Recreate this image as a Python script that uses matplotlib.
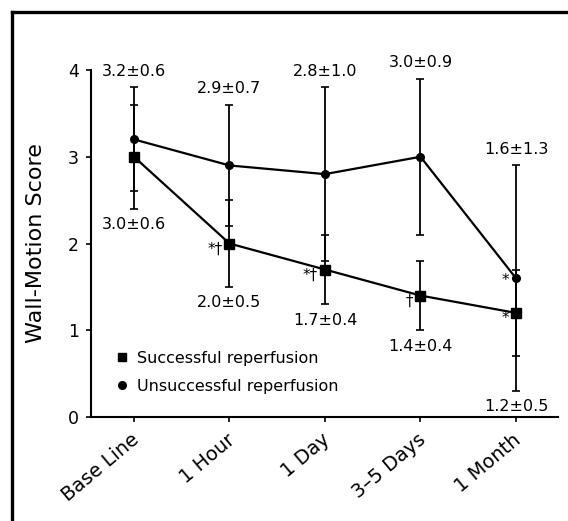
import numpy as np
import matplotlib.pyplot as plt
import matplotlib.transforms as mtransforms
from matplotlib.lines import Line2D

# values (mean +/- SD)
categories = ['Base Line', '1 Hour', '1 Day', '3\u20135 Days', '1 Month']
succ_mean = [3.0, 2.0, 1.7, 1.4, 1.2]
succ_sd = [0.6, 0.5, 0.4, 0.4, 0.5]
unsucc_mean = [3.2, 2.9, 2.8, 3.0, 1.6]
unsucc_sd = [0.6, 0.7, 1.0, 0.9, 1.3]
succ_marks = ['', '*\u2020', '*\u2020', '\u2020', '*']
unsucc_marks = ['', '', '', '', '*']

fig = plt.figure(figsize=(5.68, 5.21), dpi=100)
ax = fig.add_axes([0.1602, 0.1996, 0.8222, 0.666])

x = np.arange(len(categories))
common = dict(color='black', lw=1.6, elinewidth=1.3, capsize=2.8, capthick=1.2)
ax.errorbar(x, unsucc_mean, yerr=unsucc_sd, fmt='-o', ms=5.5, zorder=3, **common)
ax.errorbar(x, succ_mean, yerr=succ_sd, fmt='-s', ms=6.5, zorder=4, **common)

# mean +/- SD labels above and below the bars
for i in range(len(categories)):
    top = max(unsucc_mean[i] + unsucc_sd[i], succ_mean[i] + succ_sd[i])
    bottom = min(unsucc_mean[i] - unsucc_sd[i], succ_mean[i] - succ_sd[i])
    ax.annotate(f'{unsucc_mean[i]:.1f}\u00b1{unsucc_sd[i]:.1f}', (i, top),
                xytext=(0, 11.5), textcoords='offset points',
                ha='center', va='center', fontsize=11.5)
    ax.annotate(f'{succ_mean[i]:.1f}\u00b1{succ_sd[i]:.1f}', (i, bottom),
                xytext=(0, -11.5), textcoords='offset points',
                ha='center', va='center', fontsize=11.5)

# significance marks left of the points
for i in range(len(categories)):
    if succ_marks[i]:
        ax.annotate(succ_marks[i], (i, succ_mean[i]), xytext=(-5, -4),
                    textcoords='offset points', ha='right', va='center', fontsize=11)
    if unsucc_marks[i]:
        ax.annotate(unsucc_marks[i], (i, unsucc_mean[i]), xytext=(-5, -2),
                    textcoords='offset points', ha='right', va='center', fontsize=11)

ax.set_xlim(-0.45, 4.44)
ax.set_ylim(0, 4)
ax.set_yticks([0, 1, 2, 3, 4])
ax.set_xticks(x)
ax.tick_params(axis='y', labelsize=12.5, length=3.6, width=1.2, pad=5)
ax.tick_params(axis='x', length=3.6, width=1.2, pad=4)
ax.set_xticklabels(categories, rotation=40, ha='right', va='center',
                   rotation_mode='anchor', fontsize=14)
# nudge the slanted labels right and down (after tick_params, which resets them)
offset = mtransforms.ScaledTranslation(2 / 72, -7 / 72, fig.dpi_scale_trans)
for lbl in ax.get_xticklabels():
    lbl.set_transform(lbl.get_transform() + offset)

for side in ['top', 'right']:
    ax.spines[side].set_visible(False)
for side in ['left', 'bottom']:
    ax.spines[side].set_linewidth(1.5)

ax.set_ylabel('Wall-Motion Score', fontsize=16)
ax.yaxis.set_label_coords(-0.096, 0.5)

handles = [Line2D([], [], marker='s', ls='none', color='black', ms=6),
           Line2D([], [], marker='o', ls='none', color='black', ms=5.5)]
ax.legend(handles, ['Successful reperfusion', 'Unsuccessful reperfusion'],
          loc='upper left', bbox_to_anchor=(0.053, 0.19), frameon=False,
          borderpad=0, borderaxespad=0, handlelength=0.8, handletextpad=0.5,
          labelspacing=0.8, fontsize=11.5)

# page frame (left and top edges only)
fig.add_artist(Line2D([12 / 568, 12 / 568], [0, 1 - 12 / 521],
                      transform=fig.transFigure, color='black', lw=2.4))
fig.add_artist(Line2D([12 / 568, 1], [1 - 12 / 521, 1 - 12 / 521],
                      transform=fig.transFigure, color='black', lw=2.4))

fig.savefig('out.png', dpi=100)
